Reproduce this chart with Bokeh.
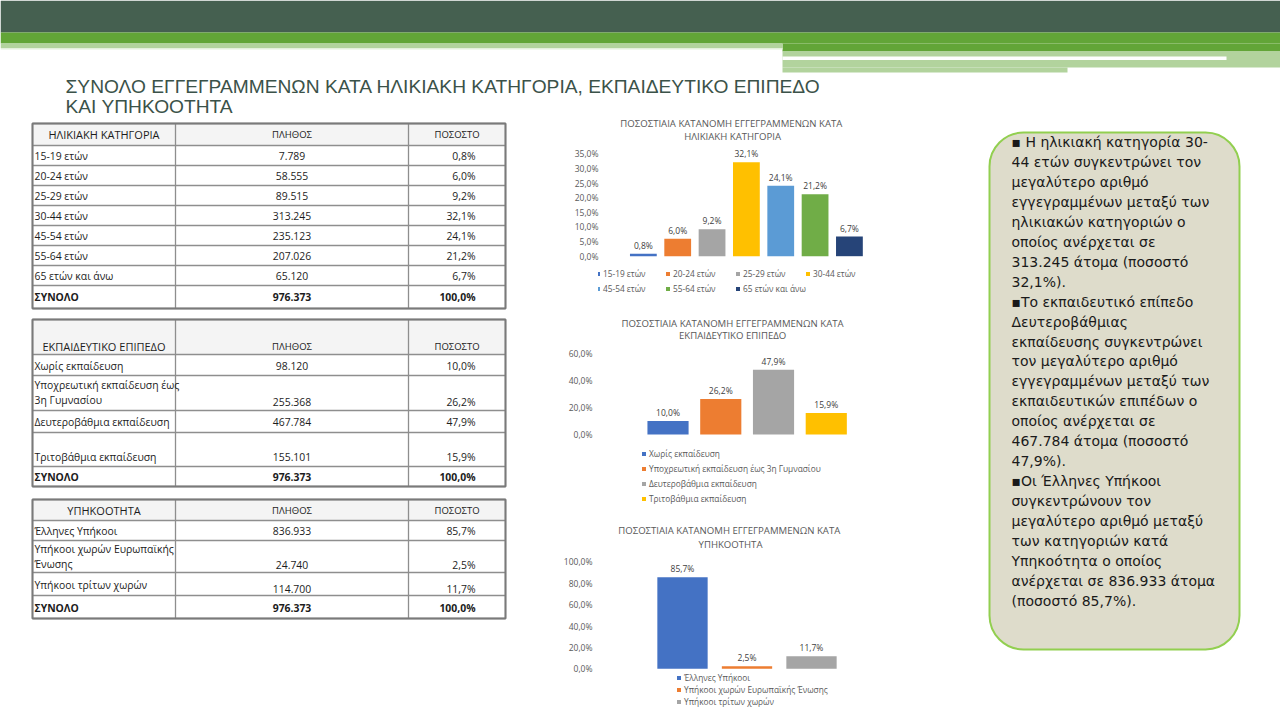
import textwrap

from bokeh.plotting import figure
from bokeh.models import (ColumnDataSource, Range1d, FixedTicker, LabelSet,
                          Legend, LegendItem, BoxAnnotation)
from bokeh.layouts import column, row
from bokeh.embed import file_html
from bokeh.resources import INLINE
from bokeh.core.properties import value

# ---------------- data ----------------
age_groups = ["15-19 ετών", "20-24 ετών", "25-29 ετών", "30-44 ετών",
              "45-54 ετών", "55-64 ετών", "65 ετών και άνω"]
age_counts = [7789, 58555, 89515, 313245, 235123, 207026, 65120]
age_pcts = [0.8, 6.0, 9.2, 32.1, 24.1, 21.2, 6.7]

edu_levels = ["Χωρίς εκπαίδευση", "Υποχρεωτική εκπαίδευση έως 3η Γυμνασίου",
              "Δευτεροβάθμια εκπαίδευση", "Τριτοβάθμια εκπαίδευση"]
edu_counts = [98120, 255368, 467784, 155101]
edu_pcts = [10.0, 26.2, 47.9, 15.9]

cit_groups = ["Έλληνες Υπήκοοι", "Υπήκοοι χωρών Ευρωπαϊκής Ένωσης",
              "Υπήκοοι τρίτων χωρών"]
cit_counts = [836933, 24740, 114700]
cit_pcts = [85.7, 2.5, 11.7]

total_count = 976373
total_pct = 100.0

age_ticks = [0, 5, 10, 15, 20, 25, 30, 35]
edu_ticks = [0, 20, 40, 60]
cit_ticks = [0, 20, 40, 60, 80, 100]

slide_title = ["ΣΥΝΟΛΟ ΕΓΓΕΓΡΑΜΜΕΝΩΝ ΚΑΤΑ ΗΛΙΚΙΑΚΗ ΚΑΤΗΓΟΡΙΑ, ΕΚΠΑΙΔΕΥΤΙΚΟ ΕΠΙΠΕΔΟ",
               "ΚΑΙ ΥΠΗΚΟΟΤΗΤΑ"]
age_title = ["ΠΟΣΟΣΤΙΑΙΑ ΚΑΤΑΝΟΜΗ ΕΓΓΕΓΡΑΜΜΕΝΩΝ  ΚΑΤΑ", "ΗΛΙΚΙΑΚΗ ΚΑΤΗΓΟΡΙΑ"]
edu_title = ["ΠΟΣΟΣΤΙΑΙΑ ΚΑΤΑΝΟΜΗ ΕΓΓΕΓΡΑΜΜΕΝΩΝ ΚΑΤΑ", "ΕΚΠΑΙΔΕΥΤΙΚΟ ΕΠΙΠΕΔΟ"]
cit_title = ["ΠΟΣΟΣΤΙΑΙΑ ΚΑΤΑΝΟΜΗ  ΕΓΓΕΓΡΑΜΜΕΝΩΝ ΚΑΤΑ", "ΥΠΗΚΟΟΤΗΤΑ"]

note_lines = [
    "▪ Η ηλικιακή κατηγορία 30-",
    "44 ετών συγκεντρώνει τον",
    "μεγαλύτερο αριθμό",
    "εγγεγραμμένων μεταξύ των",
    "ηλικιακών κατηγοριών  ο",
    "οποίος ανέρχεται σε",
    "313.245 άτομα (ποσοστό",
    "32,1%).",
    "▪Το εκπαιδευτικό επίπεδο",
    "Δευτεροβάθμιας",
    "εκπαίδευσης συγκεντρώνει",
    "τον μεγαλύτερο αριθμό",
    "εγγεγραμμένων μεταξύ των",
    "εκπαιδευτικών επιπέδων ο",
    "οποίος ανέρχεται σε",
    "467.784 άτομα (ποσοστό",
    "47,9%).",
    "▪Οι Έλληνες Υπήκοοι",
    "συγκεντρώνουν τον",
    "μεγαλύτερο αριθμό μεταξύ",
    "των κατηγοριών κατά",
    "Υπηκοότητα ο οποίος",
    "ανέρχεται σε 836.933 άτομα",
    "(ποσοστό 85,7%).",
]

# ---------------- styling ----------------
BLUE, ORANGE, GRAY, GOLD = "#4472c4", "#ed7d31", "#a5a5a5", "#ffc000"
LBLUE, GREEN, NAVY = "#5b9bd5", "#70ad47", "#264478"
age_colors = [BLUE, ORANGE, GRAY, GOLD, LBLUE, GREEN, NAVY]
edu_colors = [BLUE, ORANGE, GRAY, GOLD]
cit_colors = [BLUE, ORANGE, GRAY]

UI_FONT = "Open Sans"
CHART_TEXT = "#595959"


def fmt_int(n):
    return f"{n:,}".replace(",", ".")


def fmt_pct(v):
    return f"{v:.1f}".replace(".", ",") + "%"


def canvas(w, h, x0, y0):
    """A bare figure whose data units are page pixels (y grows downward)."""
    p = figure(width=w, height=h, x_range=Range1d(x0, x0 + w),
               y_range=Range1d(y0 + h, y0), x_axis_type=None, y_axis_type=None,
               title=None, toolbar_location=None, output_backend="svg",
               min_border=0, outline_line_color=None,
               background_fill_color="white", border_fill_color="white")
    return p


# ---------------- header band and slide title ----------------
TOP_H = 117
top = canvas(1280, TOP_H, 0, 0)
bands = ColumnDataSource(dict(
    left=[0, 0, 782, 0, 0, 782, 782, 782],
    right=[1280, 1280, 1280, 782, 782, 1280, 1226, 1067],
    top=[0, 32, 43, 43, 47.5, 51, 56, 67],
    bottom=[32, 43, 51, 47.5, 49, 67, 59.5, 72],
    color=["#456050", "#62a537", "#62a537", "#b2d39d", "#e4f0dc",
           "#b2d39d", "#ffffff", "#b2d39d"],
))
top.quad(left="left", right="right", top="top", bottom="bottom",
         fill_color="color", line_color=None, source=bands)
top.text(x=[65, 65], y=[86.2, 106.0], text=slide_title,
         text_font=value("Liberation Sans"), text_font_size="19.2px",
         text_color="#3b5249", text_align="left", text_baseline="middle")

# ---------------- tables ----------------
MID_H = 727 - TOP_H
left = canvas(550, MID_H, 0, TOP_H)
COLS = [32, 175, 408, 505]
LABEL_X, COUNT_X, PCT_X = 34, 291.5, 475
BODY_SIZE = "10.4px"


def draw_table(p, edges, head, head_y, labels, counts, pcts, label_y, value_y):
    p.quad(left=[COLS[0]], right=[COLS[-1]], top=[edges[0]], bottom=[edges[1]],
           fill_color="#f4f4f4", line_color=None)
    p.segment(x0=[COLS[0]] * len(edges), x1=[COLS[-1]] * len(edges),
              y0=edges, y1=edges, line_color="#8e8e8e", line_width=1.3)
    p.segment(x0=COLS, x1=COLS, y0=[edges[0]] * len(COLS),
              y1=[edges[-1]] * len(COLS), line_color="#8e8e8e", line_width=1.3)
    p.quad(left=[COLS[0]], right=[COLS[-1]], top=[edges[0]], bottom=[edges[-1]],
           fill_color=None, line_color="#7a7a7a", line_width=2)

    common = dict(text_font=value(UI_FONT), text_color="#1c1c1c",
                  text_baseline="middle")
    p.text(x=[(COLS[0] + COLS[1]) / 2], y=[head_y], text=[head],
           text_align="center", text_font_size="11px", **common)
    p.text(x=[COUNT_X, (COLS[2] + COLS[3]) / 2], y=[head_y, head_y],
           text=["ΠΛΗΘΟΣ", "ΠΟΣΟΣΤΟ"], text_align="center",
           text_font_size="9.5px", **common)

    lx, ly, lt = [], [], []
    for lab, y in zip(labels, label_y):
        for k, part in enumerate(textwrap.wrap(lab, 27)):
            lx.append(LABEL_X)
            ly.append(y + 15 * k)
            lt.append(part)
    p.text(x=lx, y=ly, text=lt, text_align="left", text_font_size=BODY_SIZE,
           **common)
    n = len(labels)
    p.text(x=[COUNT_X] * n, y=value_y[:n], text=[fmt_int(c) for c in counts],
           text_align="center", text_font_size=BODY_SIZE, **common)
    p.text(x=[PCT_X] * n, y=value_y[:n], text=[fmt_pct(v) for v in pcts],
           text_align="right", text_font_size=BODY_SIZE, **common)

    ty = value_y[n]
    p.text(x=[LABEL_X], y=[ty], text=["ΣΥΝΟΛΟ"], text_align="left",
           text_font_size=BODY_SIZE, text_font_style="bold", **common)
    p.text(x=[COUNT_X], y=[ty], text=[fmt_int(total_count)], text_align="center",
           text_font_size=BODY_SIZE, text_font_style="bold", **common)
    p.text(x=[PCT_X], y=[ty], text=[fmt_pct(total_pct)], text_align="right",
           text_font_size=BODY_SIZE, text_font_style="bold", **common)


age_edges = [123, 145, 165, 185, 205, 225, 245, 265, 285, 308]
age_rows_y = [(a + b) / 2 for a, b in zip(age_edges[1:], age_edges[2:])]
draw_table(left, age_edges, "ΗΛΙΚΙΑΚΗ ΚΑΤΗΓΟΡΙΑ", 134, age_groups, age_counts,
           age_pcts, age_rows_y, age_rows_y)

draw_table(left, [319, 354, 375, 410, 432, 466, 486], "ΕΚΠΑΙΔΕΥΤΙΚΟ ΕΠΙΠΕΔΟ",
           346, edu_levels, edu_counts, edu_pcts,
           [365, 384, 421, 456, 476], [365, 401, 421, 456, 476])

draw_table(left, [499, 520, 540, 572, 595, 618], "ΥΠΗΚΟΟΤΗΤΑ", 510,
           cit_groups, cit_counts, cit_pcts,
           [530, 548, 584, 607], [530, 564, 588, 607])

# ---------------- bar charts ----------------
MID_X0, MID_W = 550, 330
LEGEND_NUDGE_X, LEGEND_NUDGE_Y = -5, 2


def bar_chart(h, top_abs, border_left, zero_abs, ppu, first_abs, pitch, ticks,
              names, pcts, colors, title_lines, title_abs_y, legends,
              standoff=6):
    frame_left = MID_X0 + border_left
    x0 = -(first_abs - frame_left) / pitch
    x1 = x0 + (MID_W - border_left) / pitch
    zero = zero_abs - top_abs
    y0 = -(h - zero) / ppu
    y1 = zero / ppu
    p = figure(width=MID_W, height=h, x_range=Range1d(x0, x1),
               y_range=Range1d(y0, y1), x_axis_type=None, title=None,
               toolbar_location=None, output_backend="svg",
               min_border_left=border_left, min_border_right=0,
               min_border_top=0, min_border_bottom=0, outline_line_color=None,
               background_fill_color="white", border_fill_color="white")
    p.ygrid.visible = False
    ax = p.yaxis[0]
    ax.ticker = FixedTicker(ticks=ticks)
    ax.major_label_overrides = {t: fmt_pct(t) for t in ticks}
    ax.axis_line_color = None
    ax.major_tick_line_color = None
    ax.minor_tick_line_color = None
    ax.major_tick_in = 0
    ax.major_tick_out = 0
    ax.major_label_standoff = standoff
    ax.major_label_text_font = UI_FONT
    ax.major_label_text_font_size = "8.5px"
    ax.major_label_text_color = CHART_TEXT

    src = ColumnDataSource(dict(x=list(range(len(pcts))), top=pcts, color=colors,
                                name=names, label=[fmt_pct(v) for v in pcts]))
    bars = p.vbar(x="x", top="top", bottom=0, width=0.78, fill_color="color",
                  line_color=None, source=src)
    p.add_layout(LabelSet(x="x", y="top", text="label", source=src,
                          text_align="center", text_baseline="bottom", y_offset=3,
                          text_font=value(UI_FONT), text_font_size="8.5px",
                          text_color="#404040"))

    cx = x0 + (730 - frame_left) / pitch
    p.text(x=[cx] * len(title_lines),
           y=[(zero - (ty - top_abs)) / ppu for ty in title_abs_y],
           text=title_lines, text_font=value(UI_FONT), text_font_size="9.6px",
           text_color=CHART_TEXT, text_align="center", text_baseline="middle")

    for idx, orient, sw_left, bottom_abs, lab_h, gap in legends:
        items = [LegendItem(label=names[i], renderers=[bars], index=i) for i in idx]
        leg = Legend(items=items, orientation=orient,
                     location=(round(sw_left - frame_left + LEGEND_NUDGE_X),
                               round(h - (bottom_abs - top_abs) + LEGEND_NUDGE_Y)),
                     glyph_width=5, glyph_height=5, label_standoff=3,
                     label_width=56 if orient == "horizontal" else 20,
                     label_height=lab_h, spacing=gap, padding=0, margin=0,
                     label_text_font=UI_FONT, label_text_font_size="8.3px",
                     label_text_color=CHART_TEXT, border_line_color=None,
                     background_fill_alpha=0)
        p.add_layout(leg)
    return p


c1 = bar_chart(188, 117, 44, 255.7, 2.926, 639.5, 34.83, age_ticks, age_groups,
               age_pcts, age_colors, age_title, [123.3, 135.7],
               [([0, 1, 2, 3], "horizontal", 596, 281, 10, 6),
                ([4, 5, 6], "horizontal", 596, 296, 10, 6)],
               standoff=0)
c2 = bar_chart(210, 305, 44, 434.0, 1.351, 664.5, 53.5, edu_ticks, edu_levels,
               edu_pcts, edu_colors, edu_title, [323.3, 335.0],
               [([0, 1, 2, 3], "vertical", 642, 506, 12, 3)])
c3 = bar_chart(212, 515, 48, 668.3, 1.069, 682.0, 64.5, cit_ticks, cit_groups,
               cit_pcts, cit_colors, cit_title, [530.0, 544.3],
               [([0, 1, 2], "vertical", 681, 709, 10, 1)])

# ---------------- commentary box ----------------
right = canvas(400, MID_H, 880, TOP_H)
box = BoxAnnotation(left=989, right=1239, top=132, bottom=649,
                    fill_color="#dedccb", fill_alpha=1.0,
                    line_color="#92cf50", line_alpha=1.0, line_width=2,
                    border_radius=34, level="underlay")
right.add_layout(box)
right.text(x=[1011] * len(note_lines),
           y=[141.5 + 19.95 * i for i in range(len(note_lines))],
           text=note_lines, text_font=value("DejaVu Sans"), text_font_size="14px",
           text_color="#1a1a1a", text_align="left", text_baseline="middle")

layout = column(top,
                row(left, column(c1, c2, c3, spacing=0), right, spacing=0),
                spacing=0)

open("out.html", "w").write(file_html(layout, INLINE))
